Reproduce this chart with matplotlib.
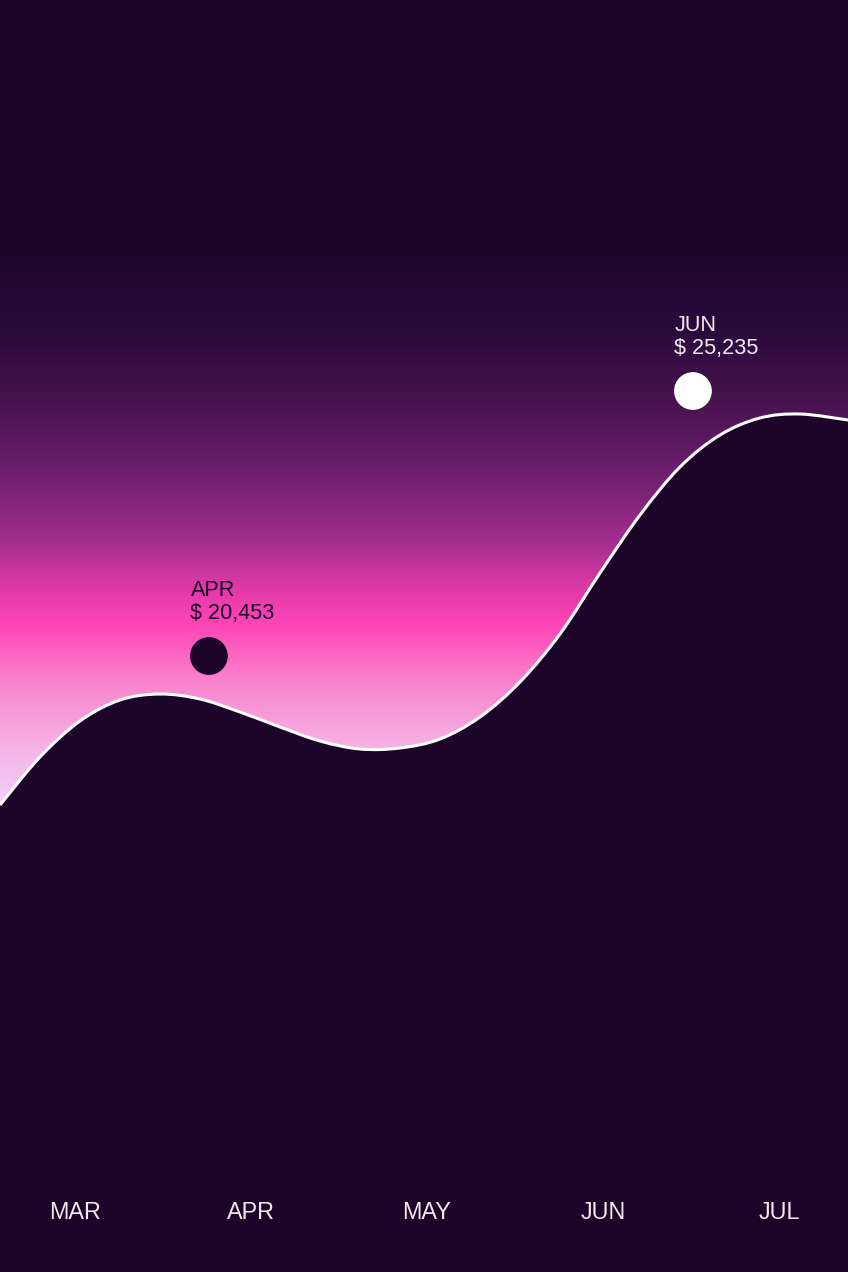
import numpy as np
import matplotlib
matplotlib.use("Agg")
import matplotlib.pyplot as plt
from matplotlib.path import Path
from matplotlib.patches import PathPatch
import matplotlib.colors as mcolors

# ---------------- data ----------------
months = ["MAR", "APR", "MAY", "JUN", "JUL"]
month_pos = [0, 1, 2, 3, 4]

curve_x = [-0.4261, -0.1989, 0.0284, 0.2557, 0.4830, 0.7102, 0.9375, 1.1648,
           1.3920, 1.6193, 1.8466, 2.0739, 2.3011, 2.5284, 2.7557, 2.9830,
           3.2102, 3.4375, 3.6648, 3.8920, 4.1193, 4.3920]
curve_y = [17764, 18630, 19280, 19659, 19767, 19677, 19442, 19172,
           18919, 18775, 18793, 18955, 19352, 19984, 20850, 21951,
           22997, 23864, 24441, 24748, 24820, 24712]

hl_month = ["APR", "JUN"]
hl_x = [0.761, 3.511]
hl_y = [20453, 25235]
hl_value = ["$ 20,453", "$ 25,235"]

# ---------------- style ----------------
BG = "#1c0529"
LIGHT = "#f3e8ee"
W, H, DPI = 848, 1272, 100
FONT = ["Liberation Sans", "DejaVu Sans"]

XMIN, XMAX = -0.4261, 4.392
YBOT, YTOP = 9337, 32291

fig = plt.figure(figsize=(W / DPI, H / DPI), dpi=DPI, facecolor=BG)
ax = fig.add_axes([0, 0, 1, 1])
ax.set_xlim(XMIN, XMAX)
ax.set_ylim(YBOT, YTOP)
ax.axis("off")

# vertical background gradient (stops by pixel row from top)
stops_px = [0, 250, 330, 400, 470, 540, 590, 625, 680, 740, 800, 1272]
stops_col = ["#1c0529", "#1c0529", "#2c0a3c", "#47124f", "#6c1e6c", "#a22d8d",
             "#e23aa8", "#ff45b8", "#f982cc", "#f6aee2", "#f0cffc", "#f0d4ff"]
rgb = np.array([mcolors.to_rgb(c) for c in stops_col])
rows = np.arange(H) + 0.5
grad = np.stack([np.interp(rows, stops_px, rgb[:, k]) for k in range(3)], axis=1)
img = np.repeat(grad[:, None, :], W, axis=1)
ax.imshow(img, extent=[XMIN, XMAX, YBOT, YTOP], aspect="auto",
          origin="upper", interpolation="none", zorder=0)

# smooth curve path (Catmull-Rom -> cubic Bezier through the data points)
P = np.column_stack([curve_x, curve_y]).astype(float)
n = len(P)
verts = [P[0]]
codes = [Path.MOVETO]
for i in range(n - 1):
    p0 = P[i - 1] if i > 0 else P[i]
    p1 = P[i]
    p2 = P[i + 1]
    p3 = P[i + 2] if i + 2 < n else P[i + 1]
    verts += [p1 + (p2 - p0) / 6.0, p2 - (p3 - p1) / 6.0, p2]
    codes += [Path.CURVE4] * 3

fill_verts = verts + [(curve_x[-1], YBOT - 1000), (curve_x[0], YBOT - 1000), verts[0]]
fill_codes = codes + [Path.LINETO, Path.LINETO, Path.CLOSEPOLY]
ax.add_patch(PathPatch(Path(fill_verts, fill_codes), facecolor=BG,
                       edgecolor="none", zorder=2))
ax.add_patch(PathPatch(Path(verts, codes), facecolor="none", edgecolor="white",
                       lw=2.2, zorder=3, capstyle="butt"))

# highlighted points
marker_face = [BG, "white"]
text_col = [BG, LIGHT]
for i in range(len(hl_x)):
    ax.scatter([hl_x[i]], [hl_y[i]], s=740, color=marker_face[i],
               edgecolors="none", zorder=4)
    ax.annotate(hl_month[i], xy=(hl_x[i], hl_y[i]), xytext=(-13.3, 43.0),
                textcoords="offset points", ha="left", va="baseline",
                fontsize=15.6, color=text_col[i], family=FONT, zorder=5)
    ax.annotate(hl_value[i], xy=(hl_x[i], hl_y[i]), xytext=(-13.3, 27.0),
                textcoords="offset points", ha="left", va="baseline",
                fontsize=15.6, color=text_col[i], family=FONT, zorder=5)

# month labels along the bottom
for pos, name in zip(month_pos, months):
    ax.text(pos, 0.0417, name, transform=ax.get_xaxis_transform(),
            ha="center", va="baseline", fontsize=16.8, color=LIGHT,
            family=FONT, zorder=5)

fig.savefig("out.png", dpi=DPI, facecolor=BG)
